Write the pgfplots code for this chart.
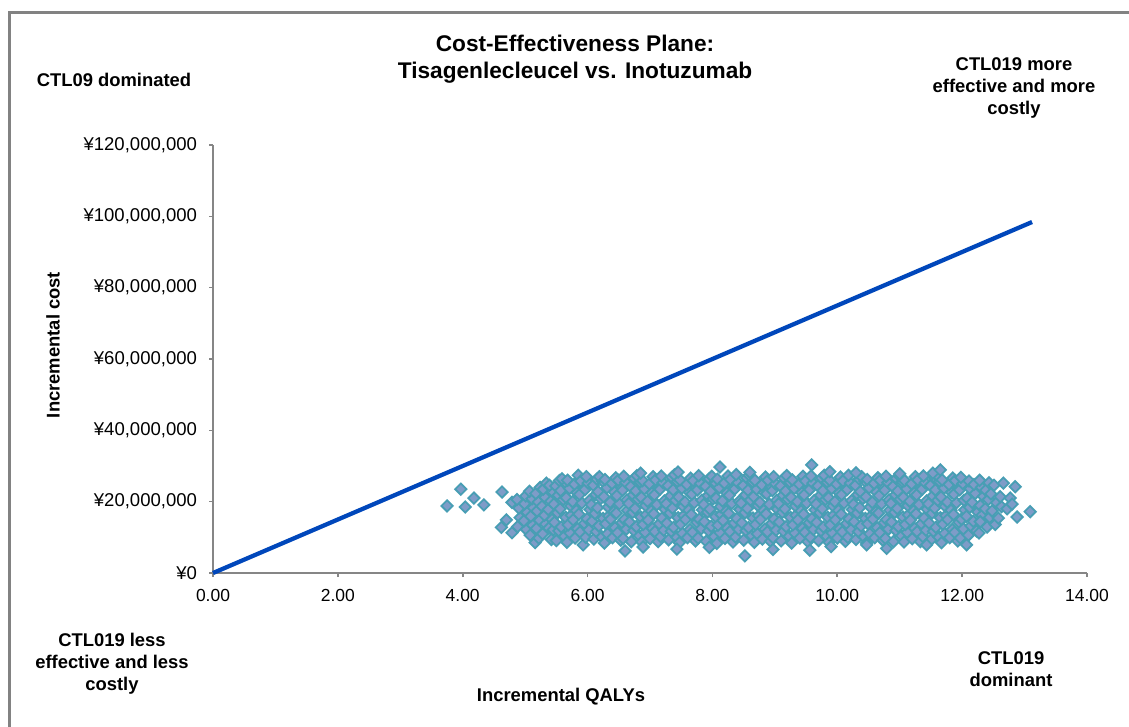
\documentclass[border=0pt]{standalone}
\usepackage{pgfplots}
\pgfplotsset{compat=1.18}
\usepackage{fontspec}
\setmainfont{Liberation Sans}

\definecolor{framegray}{RGB}{130,130,130}
\definecolor{axisgray}{RGB}{134,134,134}
\definecolor{wtpblue}{RGB}{0,71,187}
\definecolor{psafill}{RGB}{126,156,200}
\definecolor{psaedge}{RGB}{72,158,180}

\newcommand{\lblfont}{\bfseries\fontsize{13.8}{16.5}\selectfont}
\newcommand{\tickfont}{\fontsize{13.1}{15}\selectfont}
\newcommand{\ytickfont}{\fontsize{13.9}{15}\selectfont}

\begin{document}
\begin{tikzpicture}
\useasboundingbox (0,0) rectangle (846.75pt,544.5pt);
% chart frame
\draw[framegray, line width=2.25pt] (6.75pt,-3pt) -- (6.75pt,534.75pt) -- (850pt,534.75pt);

\begin{axis}[
  at={(159.75pt,114.75pt)}, anchor=south west,
  width=655.5pt, height=321pt, scale only axis,
  xmin=0, xmax=14, ymin=0, ymax=120,
  axis x line*=bottom, axis y line*=left,
  axis line style={axisgray, line width=1.5pt},
  tick align=outside,
  major tick length=3pt,
  tick style={axisgray, line width=1.2pt},
  xtick={0,2,4,6,8,10,12,14},
  xticklabels={0.00,2.00,4.00,6.00,8.00,10.00,12.00,14.00},
  ytick={0,20,40,60,80,100,120},
  yticklabels={{¥0},{¥20,000,000},{¥40,000,000},{¥60,000,000},{¥80,000,000},{¥100,000,000},{¥120,000,000}},
  xticklabel style={font=\tickfont, yshift=-6pt},
  yticklabel style={font=\ytickfont, xshift=-5.5pt},
  clip=false,
]
% willingness-to-pay threshold (cost in million yen per QALY)
\addplot[wtpblue, line width=3.2pt] coordinates {(0,0) (13.12,98.4)};

% probabilistic sensitivity analysis (incremental QALYs, incremental cost in million yen)
\addplot[only marks, mark=square*, mark size=3.0pt,
  mark options={rotate=45, fill=psafill, draw=psaedge, line width=1.35pt}]
coordinates {
(3.75,18.8) (3.97,23.5) (4.04,18.5) (4.18,21.0) (4.34,19.1) (4.63,22.7) (4.79,19.8) (4.62,12.8) (4.70,14.9) (4.79,11.3) (5.16,8.5)
(4.88,13.0) (4.92,15.5) (4.90,18.2) (4.87,20.6)
(5.02,12.2) (4.98,14.6) (5.03,17.0) (4.99,19.4) (5.01,21.6)
(5.08,10.6) (5.12,13.4) (5.09,15.9) (5.13,18.3) (5.11,20.8) (5.07,22.9)
(5.22,9.8) (5.18,12.5) (5.23,14.8) (5.19,17.4) (5.21,19.9) (5.17,22.3) (5.24,24.0)
(5.28,11.0) (5.33,13.7) (5.31,16.2) (5.27,18.7) (5.32,21.2) (5.29,23.5) (5.34,25.2)
(5.42,9.4) (5.38,12.6) (5.43,15.0) (5.37,17.8) (5.41,20.1) (5.44,22.8) (5.39,24.6) (5.45,12.1)
(5.50,9.1) (5.54,11.8) (5.47,14.2) (5.52,16.9) (5.46,19.3) (5.53,21.8) (5.49,24.4) (5.55,25.9)
(5.63,10.3) (5.58,12.9) (5.65,15.6) (5.56,18.0) (5.61,20.6) (5.57,23.1) (5.64,25.5) (5.59,26.4)
(5.67,8.6) (5.72,11.2) (5.69,13.5) (5.74,16.2) (5.73,18.8) (5.66,21.1) (5.71,23.7) (5.68,26.0)
(5.80,9.8) (5.84,12.4) (5.77,14.9) (5.82,17.5) (5.76,20.0) (5.83,22.5) (5.79,24.9) (5.85,27.4)
(5.93,7.9) (5.88,11.5) (5.95,13.9) (5.86,16.5) (5.91,19.6) (5.87,22.0) (5.94,24.1) (5.89,25.8)
(5.97,10.0) (6.02,12.1) (5.99,15.2) (6.04,17.8) (6.03,20.3) (5.96,23.4) (6.01,25.2) (5.98,27.0)
(6.10,9.5) (6.14,11.6) (6.07,14.5) (6.12,16.7) (6.06,19.1) (6.13,22.0) (6.09,24.6) (6.15,26.3)
(6.23,10.1) (6.18,13.2) (6.25,15.3) (6.16,18.3) (6.21,20.9) (6.17,22.8) (6.24,25.8) (6.19,27.0)
(6.27,8.4) (6.32,11.0) (6.29,13.8) (6.34,16.0) (6.33,18.5) (6.26,21.4) (6.31,23.9) (6.28,26.2)
(6.40,9.9) (6.44,12.7) (6.37,15.1) (6.42,17.2) (6.36,19.8) (6.43,22.7) (6.39,25.1) (6.45,26.7)
(6.53,9.2) (6.48,11.3) (6.55,14.1) (6.46,16.8) (6.51,19.4) (6.47,21.7) (6.54,24.3) (6.49,26.0)
(6.57,9.7) (6.62,12.3) (6.59,15.0) (6.64,17.6) (6.63,20.5) (6.56,23.2) (6.61,25.4) (6.58,27.1)
(6.70,8.8) (6.74,11.9) (6.67,14.3) (6.72,17.0) (6.66,19.5) (6.73,21.9) (6.69,24.2) (6.75,26.5)
(6.83,10.4) (6.78,13.0) (6.85,15.7) (6.76,18.1) (6.81,20.7) (6.77,23.0) (6.84,25.6) (6.79,27.3)
(6.87,8.7) (6.92,11.4) (6.89,13.6) (6.94,16.3) (6.93,18.9) (6.86,21.2) (6.91,23.6) (6.88,25.9)
(7.00,9.6) (7.04,12.5) (6.97,14.8) (7.02,17.4) (6.96,20.1) (7.03,22.4) (6.99,25.0) (7.05,27.0)
(7.13,8.8) (7.08,11.6) (7.15,13.8) (7.06,16.6) (7.11,19.2) (7.07,21.9) (7.14,24.0) (7.09,26.1)
(7.17,10.2) (7.22,12.0) (7.19,15.4) (7.24,17.9) (7.23,20.2) (7.16,23.5) (7.21,25.3) (7.18,27.2)
(7.30,9.3) (7.34,11.7) (7.27,14.0) (7.32,16.8) (7.26,19.4) (7.33,21.6) (7.29,24.5) (7.35,26.8)
(7.43,10.0) (7.38,12.8) (7.45,15.5) (7.36,18.2) (7.41,20.4) (7.37,23.3) (7.44,25.7) (7.39,27.5)
(7.47,8.5) (7.52,11.1) (7.49,13.7) (7.54,16.1) (7.53,18.7) (7.46,21.3) (7.51,23.8) (7.48,26.1)
(7.60,9.9) (7.64,12.2) (7.57,15.0) (7.62,17.6) (7.56,19.9) (7.63,22.6) (7.59,24.8) (7.65,26.6)
(7.73,9.0) (7.68,11.4) (7.75,14.2) (7.66,16.4) (7.71,19.7) (7.67,22.1) (7.74,24.2) (7.69,25.9)
(7.77,9.8) (7.82,12.4) (7.79,15.1) (7.84,17.7) (7.83,20.4) (7.76,23.3) (7.81,25.1) (7.78,27.3)
(7.90,8.9) (7.94,11.8) (7.87,14.4) (7.92,17.1) (7.86,19.2) (7.93,21.7) (7.89,24.3) (7.95,26.4)
(8.03,10.2) (7.98,13.1) (8.05,15.8) (7.96,17.9) (8.01,20.8) (7.97,22.9) (8.04,25.4) (7.99,27.1)
(8.07,8.3) (8.12,11.3) (8.09,13.4) (8.14,16.4) (8.13,18.6) (8.06,21.0) (8.11,23.9) (8.08,26.3)
(8.20,9.7) (8.24,12.6) (8.17,14.7) (8.22,17.3) (8.16,20.2) (8.23,22.4) (8.19,25.2) (8.25,27.2)
(8.33,8.7) (8.28,11.6) (8.35,14.0) (8.26,16.7) (8.31,19.5) (8.27,21.8) (8.34,24.0) (8.29,26.2)
(8.37,10.1) (8.42,12.2) (8.39,15.3) (8.44,17.8) (8.43,20.1) (8.36,23.6) (8.41,25.3) (8.38,27.6)
(8.50,9.2) (8.54,11.9) (8.47,14.1) (8.52,16.9) (8.46,19.6) (8.53,21.9) (8.49,24.5) (8.55,26.7)
(8.63,10.5) (8.58,12.7) (8.65,15.4) (8.56,18.1) (8.61,20.5) (8.57,23.2) (8.64,25.6) (8.59,27.4)
(8.67,8.6) (8.72,11.0) (8.69,13.6) (8.74,16.0) (8.73,18.9) (8.66,21.4) (8.71,23.5) (8.68,26.0)
(8.80,9.5) (8.84,12.3) (8.77,15.0) (8.82,17.5) (8.76,19.8) (8.83,22.6) (8.79,24.7) (8.85,26.9)
(8.93,8.9) (8.88,11.5) (8.95,13.9) (8.86,16.6) (8.91,19.3) (8.87,22.2) (8.94,24.3) (8.89,26.0)
(8.97,9.9) (9.02,12.0) (8.99,15.1) (9.04,17.9) (9.03,20.4) (8.96,23.1) (9.01,25.0) (8.98,27.0)
(9.10,9.0) (9.14,11.7) (9.07,14.3) (9.12,17.0) (9.06,19.4) (9.13,21.8) (9.09,24.4) (9.15,26.6)
(9.23,10.3) (9.18,13.0) (9.25,15.6) (9.16,18.0) (9.21,20.7) (9.17,23.0) (9.24,25.5) (9.19,27.3)
(9.27,8.4) (9.32,11.2) (9.29,13.5) (9.34,16.2) (9.33,18.8) (9.26,21.2) (9.31,23.7) (9.28,26.1)
(9.40,9.8) (9.44,12.5) (9.37,14.9) (9.42,17.4) (9.36,20.0) (9.43,22.5) (9.39,24.9) (9.45,27.1)
(9.53,8.8) (9.48,11.4) (9.55,14.1) (9.46,16.5) (9.51,19.6) (9.47,21.9) (9.54,24.1) (9.49,25.8)
(9.57,10.0) (9.62,12.2) (9.59,15.2) (9.64,17.7) (9.63,20.3) (9.56,23.4) (9.61,25.2) (9.58,27.2)
(9.70,9.1) (9.74,11.8) (9.67,14.2) (9.72,16.9) (9.66,19.3) (9.73,21.8) (9.69,24.4) (9.75,26.6)
(9.83,10.3) (9.78,12.9) (9.85,15.6) (9.76,18.0) (9.81,20.6) (9.77,23.1) (9.84,25.5) (9.79,27.4)
(9.87,8.6) (9.92,11.2) (9.89,13.5) (9.94,16.2) (9.93,18.8) (9.86,21.1) (9.91,23.7) (9.88,26.0)
(10.00,9.8) (10.04,12.4) (9.97,14.9) (10.02,17.5) (9.96,20.0) (10.03,22.5) (9.99,24.9) (10.05,26.9)
(10.13,8.9) (10.08,11.5) (10.15,13.9) (10.06,16.5) (10.11,19.6) (10.07,22.0) (10.14,24.1) (10.09,25.8)
(10.17,10.0) (10.22,12.1) (10.19,15.2) (10.24,17.8) (10.23,20.3) (10.16,23.4) (10.21,25.2) (10.18,27.4)
(10.30,9.4) (10.34,11.6) (10.27,14.4) (10.32,16.8) (10.26,19.2) (10.33,22.0) (10.29,24.6) (10.35,26.4)
(10.43,10.1) (10.38,13.2) (10.45,15.3) (10.36,18.3) (10.41,20.9) (10.37,22.8) (10.44,25.8) (10.39,27.0)
(10.47,8.4) (10.52,11.0) (10.49,13.8) (10.54,16.0) (10.53,18.5) (10.46,21.4) (10.51,23.9) (10.48,26.2)
(10.60,9.9) (10.64,12.7) (10.57,15.1) (10.62,17.2) (10.56,19.8) (10.63,22.7) (10.59,25.1) (10.65,26.7)
(10.73,9.2) (10.68,11.3) (10.75,14.1) (10.66,16.8) (10.71,19.4) (10.67,21.7) (10.74,24.3) (10.69,26.0)
(10.77,9.7) (10.82,12.3) (10.79,15.0) (10.84,17.6) (10.83,20.5) (10.76,23.2) (10.81,25.4) (10.78,27.1)
(10.90,8.8) (10.94,11.9) (10.87,14.3) (10.92,17.0) (10.86,19.5) (10.93,21.9) (10.89,24.2) (10.95,26.5)
(11.03,10.4) (10.98,13.0) (11.05,15.7) (10.96,18.1) (11.01,20.7) (10.97,23.0) (11.04,25.6) (10.99,27.3)
(11.07,8.7) (11.12,11.4) (11.09,13.6) (11.14,16.3) (11.13,18.9) (11.06,21.2) (11.11,23.6) (11.08,25.9)
(11.20,9.6) (11.24,12.5) (11.17,14.8) (11.22,17.4) (11.16,20.1) (11.23,22.4) (11.19,25.0) (11.25,27.0)
(11.33,8.8) (11.28,11.6) (11.35,13.8) (11.26,16.6) (11.31,19.2) (11.27,21.9) (11.34,24.0) (11.29,26.1)
(11.37,10.2) (11.42,12.0) (11.39,15.4) (11.44,17.9) (11.43,20.2) (11.36,23.5) (11.41,25.3) (11.38,27.2)
(11.50,9.3) (11.54,11.7) (11.47,14.0) (11.52,16.8) (11.46,19.4) (11.53,21.6) (11.49,24.5) (11.55,26.8)
(11.63,10.0) (11.58,12.8) (11.65,15.5) (11.56,18.2) (11.61,20.4) (11.57,23.3) (11.64,25.7) (11.59,27.5)
(11.67,8.5) (11.72,11.1) (11.69,13.7) (11.74,16.1) (11.73,18.7) (11.66,21.3) (11.71,23.8) (11.68,26.1)
(11.80,9.9) (11.84,12.2) (11.77,15.0) (11.82,17.6) (11.76,19.9) (11.83,22.6) (11.79,24.8) (11.85,26.6)
(11.93,9.0) (11.88,11.4) (11.95,14.2) (11.86,16.4) (11.91,19.7) (11.87,22.1) (11.94,24.2) (11.89,25.9)
(11.97,9.8) (12.02,12.4) (11.99,15.1) (12.04,17.7) (12.03,20.4) (11.96,23.3) (12.01,25.1) (11.98,26.8)
(12.10,10.6) (12.14,13.2) (12.07,15.9) (12.12,18.4) (12.08,21.0) (12.13,23.6) (12.11,25.8)
(12.23,11.8) (12.18,14.5) (12.25,17.1) (12.16,19.8) (12.21,22.3) (12.19,24.8)
(12.27,11.2) (12.32,16.2) (12.29,18.9) (12.34,21.5) (12.31,24.0) (12.28,26.0) (12.29,14.4)
(12.40,12.9) (12.44,15.6) (12.37,18.0) (12.42,20.6) (12.38,23.2) (12.43,25.3)
(12.53,13.6) (12.48,17.4) (12.55,19.7) (12.46,22.2) (12.51,24.6)
(12.58,15.4) (12.63,18.6) (12.61,21.4) (12.66,25.2)
(12.72,18.0) (12.77,21.0) (12.80,19.3) (12.85,24.2) (12.88,15.7) (13.09,17.2)
(6.60,6.2) (6.89,7.3) (7.43,6.7) (7.95,7.2) (8.52,4.8) (8.97,6.6) (9.56,6.4) (9.90,7.4) (10.47,7.9) (10.79,6.9) (11.43,7.9) (12.07,7.9)
(6.85,28.0) (7.45,28.3) (8.12,29.7) (8.60,28.2) (9.59,30.3) (9.88,28.4) (10.30,28.1) (11.00,27.8) (11.53,28.0) (11.65,28.9)
};
\end{axis}

% titles and quadrant notes
\node[align=center, font=\bfseries\fontsize{17}{20.25}\selectfont] at (431.25pt,499.9pt)
  {Cost-Effectiveness Plane:\\Tisagenlecleucel vs. Inotuzumab};
\node[font=\lblfont] at (85.5pt,484.5pt) {CTL09 dominated};
\node[align=center, font=\lblfont] at (760.5pt,478.5pt) {CTL019 more\\effective and more\\costly};
\node[align=center, font=\lblfont] at (84pt,46.5pt) {CTL019 less\\effective and less\\costly};
\node[align=center, font=\lblfont] at (758.25pt,42.75pt) {CTL019\\dominant};
\node[font=\lblfont] at (420.75pt,21.75pt) {Incremental QALYs};
\node[font=\lblfont, rotate=90] at (39.75pt,285.75pt) {Incremental cost};
\end{tikzpicture}
\end{document}
